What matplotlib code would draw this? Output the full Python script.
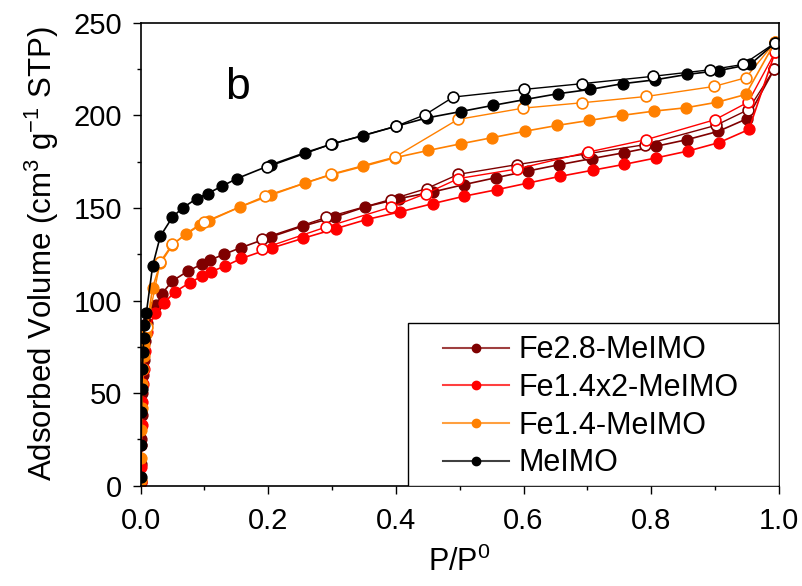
import matplotlib
matplotlib.use("Agg")
import matplotlib.pyplot as plt
from matplotlib.patches import Rectangle
from matplotlib.ticker import MultipleLocator

plt.rcParams['font.family'] = ['Liberation Sans', 'DejaVu Sans']
plt.rcParams['mathtext.fontset'] = 'custom'
plt.rcParams['mathtext.rm'] = 'Liberation Sans'

# Fe2.8-MeIMO
fe28_ads_x = [0.0005, 0.001, 0.0015, 0.002, 0.003, 0.004, 0.005, 0.007, 0.010, 0.025, 0.033,
              0.050, 0.075, 0.096, 0.109, 0.131, 0.158, 0.204, 0.254, 0.305, 0.352, 0.405,
              0.458, 0.506, 0.557, 0.607, 0.656, 0.707, 0.758, 0.807, 0.856, 0.905, 0.950, 0.993]
fe28_ads_y = [2, 12, 25, 38, 50, 60, 68, 78, 88, 97.5, 103.4,
              110.6, 116, 119.6, 121.8, 125, 128.6, 134.3, 140.1, 145.1, 150.5, 155,
              158.6, 162.5, 166.3, 169.9, 173.3, 176.6, 179.8, 183.2, 186.8, 191.3, 198.1, 225]
fe28_des_x = [0.993, 0.952, 0.901, 0.790, 0.700, 0.589, 0.498, 0.448, 0.392, 0.291, 0.191]
fe28_des_y = [225, 203, 194.5, 184.1, 179.2, 173.3, 168.1, 160.4, 154.5, 144.8, 133.4]

# Fe1.4x2-MeIMO
fe14x2_ads_x = [0.0005, 0.001, 0.0015, 0.002, 0.003, 0.004, 0.005, 0.007, 0.010, 0.023, 0.036,
                0.054, 0.077, 0.097, 0.110, 0.132, 0.158, 0.206, 0.254, 0.306, 0.354, 0.406,
                0.458, 0.507, 0.558, 0.607, 0.657, 0.708, 0.758, 0.807, 0.858, 0.906, 0.953, 0.994]
fe14x2_ads_y = [2, 10, 22, 33, 45, 55, 63, 73, 83, 93, 98.4,
                104.7, 109.6, 113.3, 115.5, 118.5, 122.7, 128.4, 133.5, 138.8, 143.7, 147.8,
                152.3, 156.3, 159.8, 163.4, 167, 170.3, 173.5, 176.9, 180.7, 185.2, 192.3, 234]
fe14x2_des_x = [0.994, 0.952, 0.900, 0.792, 0.701, 0.590, 0.498, 0.447, 0.393, 0.291, 0.191]
fe14x2_des_y = [234, 207.1, 197.6, 186.8, 180.1, 171, 165.8, 157.7, 150.5, 139.7, 128]

# Fe1.4-MeIMO
fe14_ads_x = [0.0005, 0.001, 0.0015, 0.002, 0.003, 0.004, 0.005, 0.006, 0.008, 0.019, 0.031,
              0.050, 0.071, 0.093, 0.107, 0.156, 0.205, 0.258, 0.300, 0.349, 0.399, 0.451,
              0.502, 0.551, 0.603, 0.653, 0.703, 0.754, 0.804, 0.854, 0.903, 0.948, 0.994]
fe14_ads_y = [3, 15, 30, 42, 55, 63, 70, 76, 82, 107, 120,
              130, 136, 141, 143, 150.5, 157, 163.4, 168, 172.4, 177.1, 181,
              184.6, 187.9, 191.4, 194.5, 197.2, 199.9, 202.2, 204, 207, 211.2, 239.5]
fe14_des_x = [0.994, 0.948, 0.898, 0.792, 0.691, 0.599, 0.497, 0.398, 0.298, 0.195, 0.100,
              0.050, 0.031, 0.010]
fe14_des_y = [239.5, 220.2, 215.5, 210.1, 206.7, 203.8, 197.7, 177.4, 168.1, 156.3, 142.4,
              130.4, 121, 85.5]

# MeIMO
me_ads_x = [0.0005, 0.001, 0.0015, 0.002, 0.003, 0.004, 0.005, 0.006, 0.009, 0.019, 0.031,
            0.050, 0.066, 0.088, 0.105, 0.127, 0.151, 0.205, 0.258, 0.300, 0.349, 0.400,
            0.448, 0.502, 0.552, 0.603, 0.654, 0.704, 0.755, 0.806, 0.856, 0.906, 0.955, 0.994]
me_ads_y = [5, 22, 40, 52, 63, 72, 80, 87, 93, 118.7, 134.7,
            145, 150, 155, 157.7, 161.6, 165.8, 173.3, 179.8, 184.5, 189, 194,
            198.5, 202, 205.3, 208.5, 211.6, 213.9, 217, 219.1, 222, 224.1, 227.4, 239]
me_des_x = [0.994, 0.944, 0.892, 0.803, 0.691, 0.600, 0.490, 0.446, 0.400, 0.298, 0.198]
me_des_y = [239, 227.4, 224.5, 221, 217, 213.9, 209.8, 200.3, 194, 184.3, 172]

labels = ['Fe2.8-MeIMO', 'Fe1.4x2-MeIMO', 'Fe1.4-MeIMO', 'MeIMO']
colors = ['#7f0000', '#ff0000', '#ff8000', '#000000']
ads = [(fe28_ads_x, fe28_ads_y), (fe14x2_ads_x, fe14x2_ads_y),
       (fe14_ads_x, fe14_ads_y), (me_ads_x, me_ads_y)]
des = [(fe28_des_x, fe28_des_y), (fe14x2_des_x, fe14x2_des_y),
       (fe14_des_x, fe14_des_y), (me_des_x, me_des_y)]

fig = plt.figure(figsize=(8.03, 5.86), dpi=100)
ax = fig.add_axes([0.175, 0.171, 0.795, 0.7905])

for (ax_x, ax_y), (dx, dy), c, lab in zip(ads, des, colors, labels):
    ax.plot(ax_x, ax_y, '-o', color=c, lw=1.2, ms=7.8, mec=c)
    ax.plot(dx, dy, '-o', color=c, lw=1.0, ms=7.8, mfc='white', mec=c, mew=1.2)

# legend handles: lighter line, solid marker
handles = [plt.Line2D([], [], color=c, lw=1.5, alpha=0.75) for c in colors]
markers = [plt.Line2D([], [], ls='none', marker='o', ms=6, color=c) for c in colors]

ax.set_xlim(0, 1.0)
ax.set_ylim(0, 250)
ax.xaxis.set_major_locator(MultipleLocator(0.2))
ax.xaxis.set_minor_locator(MultipleLocator(0.1))
ax.yaxis.set_major_locator(MultipleLocator(50))
ax.yaxis.set_minor_locator(MultipleLocator(25))
ax.xaxis.set_major_formatter(plt.FormatStrFormatter('%.1f'))
ax.tick_params(which='major', direction='out', length=6, width=1, labelsize=21)
ax.tick_params(axis='y', which='major', pad=7)
ax.tick_params(axis='x', which='major', pad=9)
ax.tick_params(which='minor', direction='out', length=3, width=1)
for s in ax.spines.values():
    s.set_linewidth(1.2)

ax.set_xlabel('P/P$^{0}$', fontsize=22, labelpad=9)
ax.set_ylabel('Adsorbed Volume (cm$^{3}$ g$^{-1}$ STP)', fontsize=22.5, labelpad=9)
ax.text(0.132, 208.5, 'b', fontsize=32)

# legend box drawn as a plain rectangle in the lower right corner
ax.add_patch(Rectangle((0.419, 0), 0.581, 0.351, transform=ax.transAxes,
                       facecolor='white', edgecolor='black', lw=1.0, zorder=5))
leg = ax.legend(handles=list(zip(handles, markers)), labels=labels, loc='center left',
                bbox_to_anchor=(0.4738, 0.1705), borderaxespad=0, borderpad=0,
                frameon=False, fontsize=22, handlelength=2.15, handletextpad=0.33,
                labelspacing=0.25)
leg.set_zorder(6)

fig.savefig('out.png', dpi=100)
